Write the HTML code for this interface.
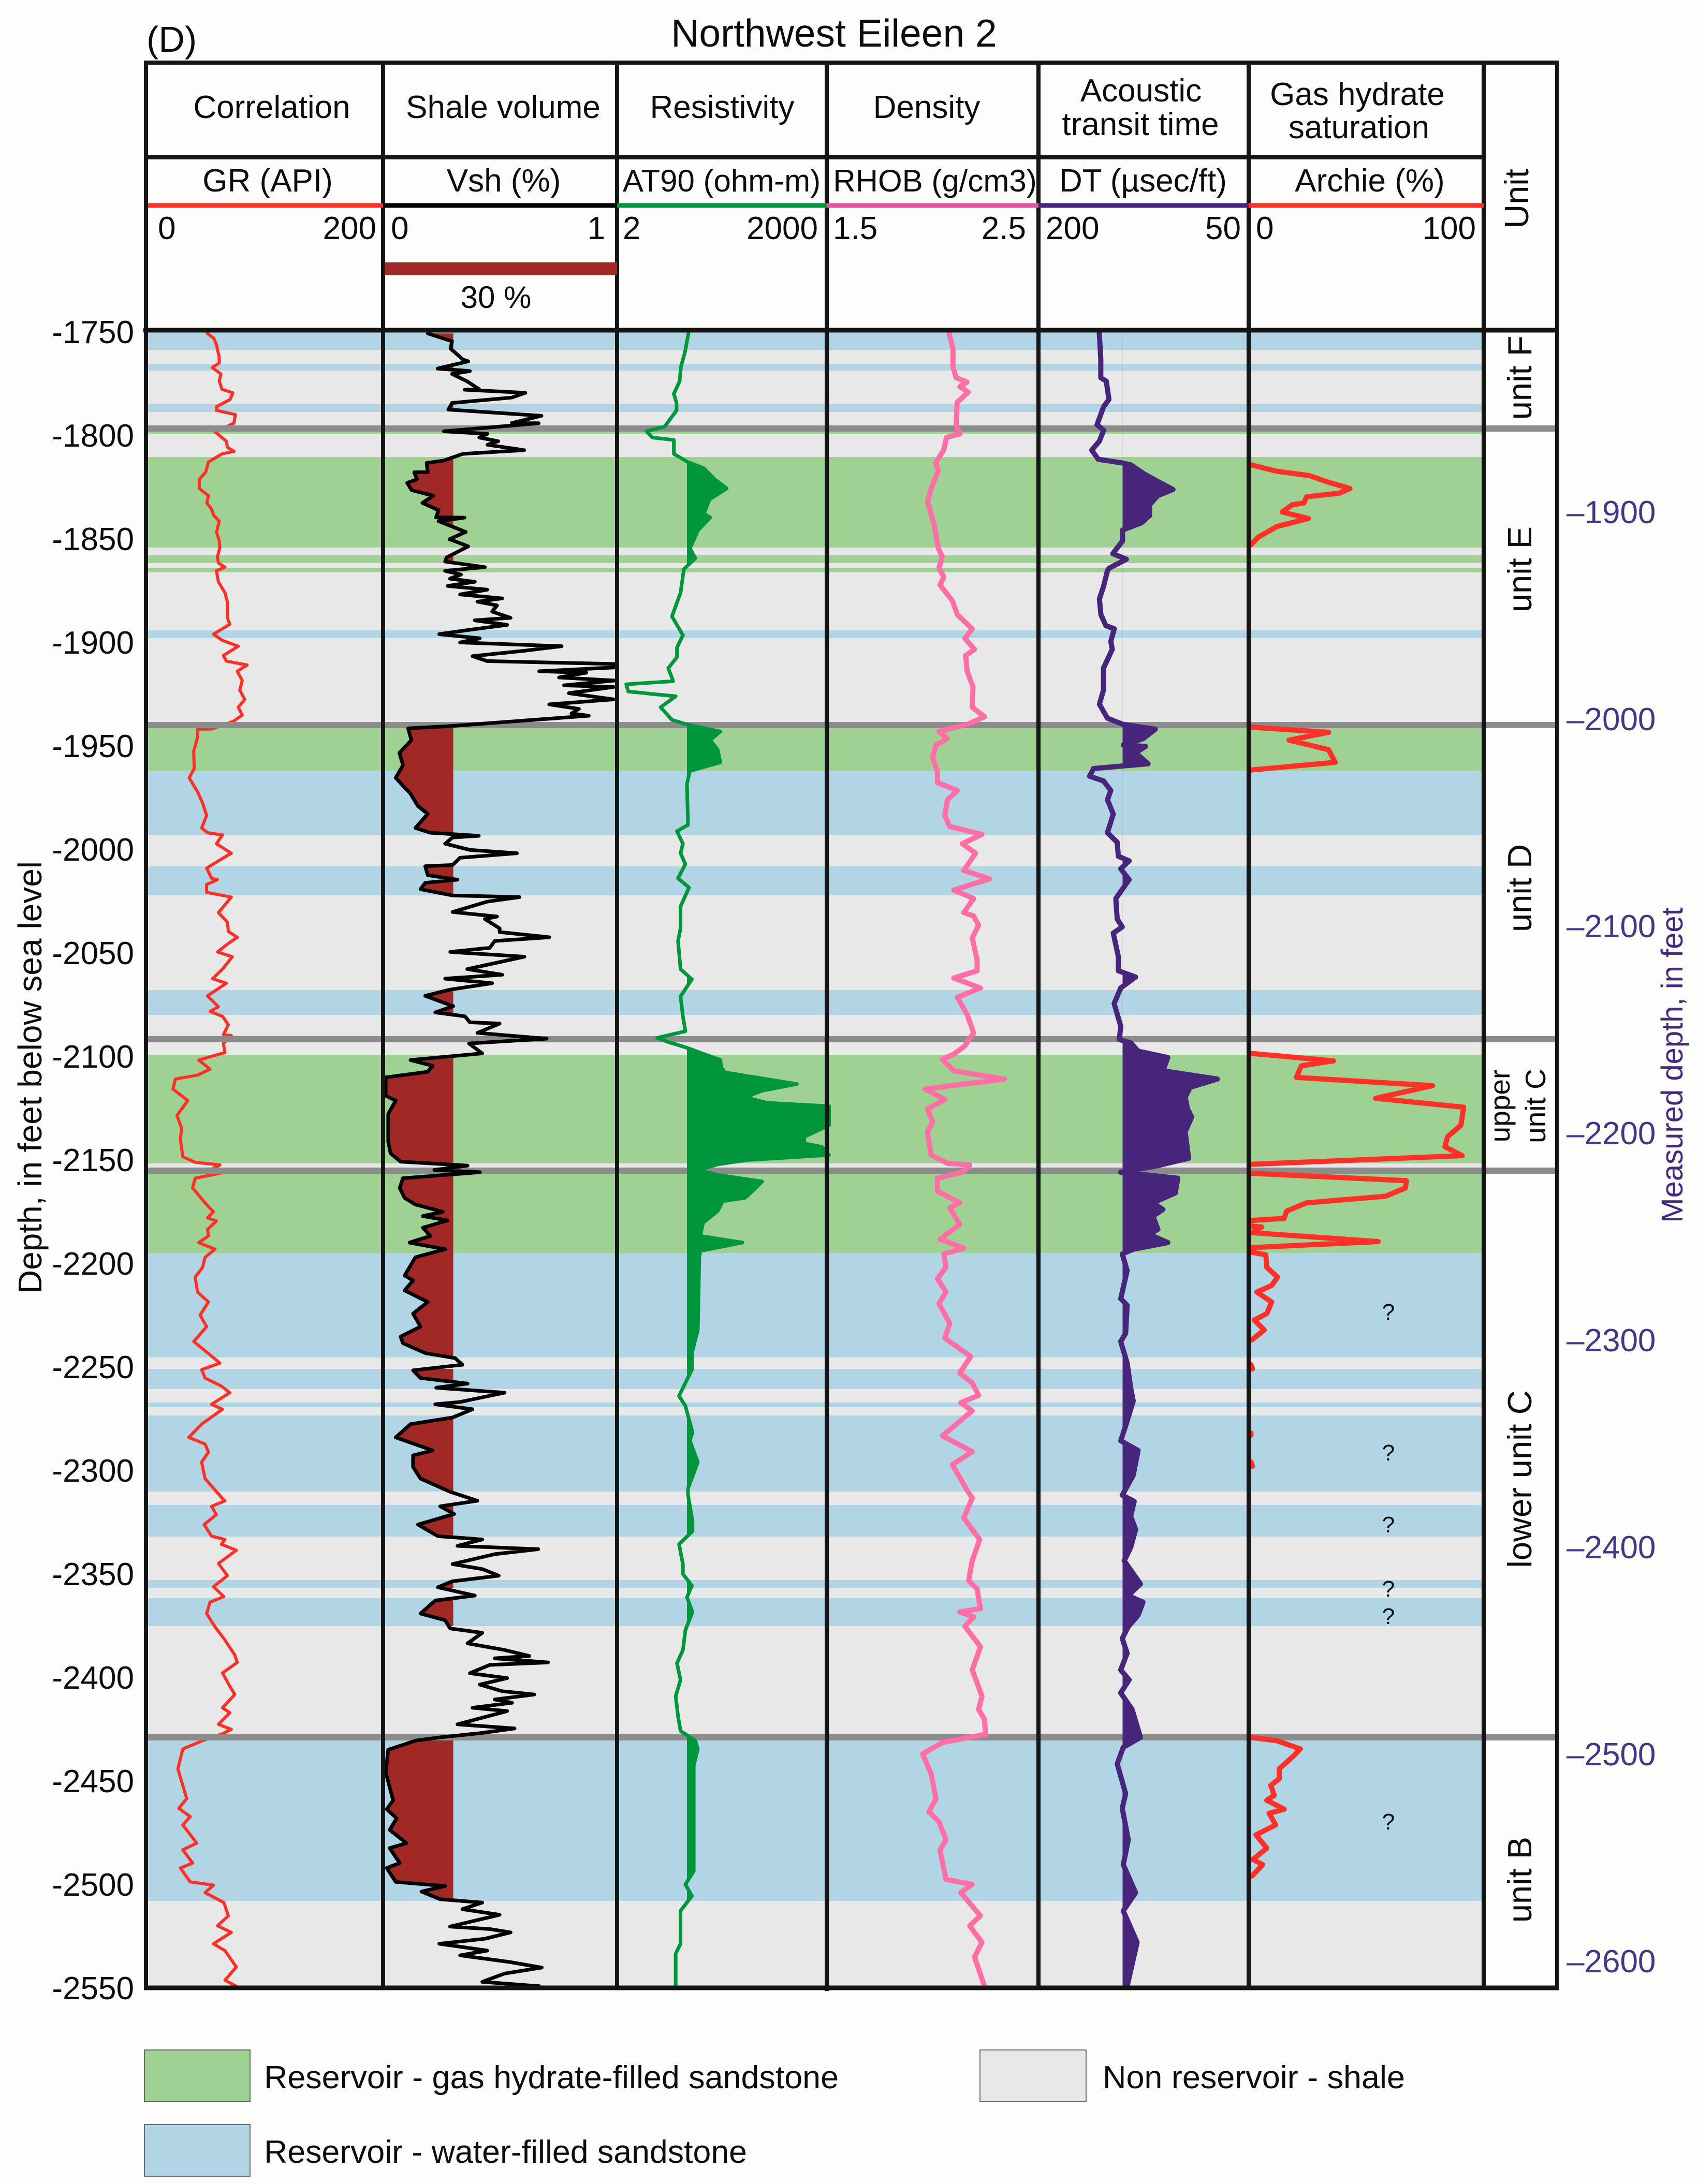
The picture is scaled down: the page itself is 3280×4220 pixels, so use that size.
<!DOCTYPE html>
<html lang="en">
<head>
<meta charset="utf-8">
<title>Northwest Eileen 2 well log</title>
<style>
html,body{margin:0;padding:0;background:#fdfdfb;}
svg{display:block;font-family:"Liberation Sans",Arial,sans-serif;}
text{fill:#0c0c0c;}
</style>
</head>
<body>
<svg id="chart" xmlns="http://www.w3.org/2000/svg" width="3280" height="4220" viewBox="0 0 3280 4220">
<defs id="defs"></defs>
<rect x="0" y="0" width="3280" height="4220" fill="#fdfdfb"/>
<rect x="283" y="640" width="2583" height="3201" fill="#e8e8e8"/>
<g id="bands"></g>
<g id="grLayer"></g>
<g id="unitLines"></g>
<g id="fills"></g>
<g id="curves"></g>
<g stroke="#151515" stroke-width="8" fill="none">
<line x1="278" y1="121" x2="3012" y2="121"/>
<line x1="282" y1="118" x2="282" y2="3845"/>
<line x1="3008" y1="118" x2="3008" y2="3845"/>
<line x1="740" y1="121" x2="740" y2="3841"/>
<line x1="1192" y1="121" x2="1192" y2="3841"/>
<line x1="1597" y1="121" x2="1597" y2="3847"/>
<line x1="2006" y1="121" x2="2006" y2="3841"/>
<line x1="2412" y1="121" x2="2412" y2="3841"/>
<line x1="2866" y1="121" x2="2866" y2="3841"/>
<line x1="282" y1="304" x2="2866" y2="304"/>
<line x1="277" y1="638" x2="3012" y2="638" stroke-width="9"/>
<line x1="278" y1="3841" x2="3012" y2="3841" stroke-width="9"/>
</g>
<g stroke-width="9">
<line x1="286" y1="397" x2="740" y2="397" stroke="#ff3028"/>
<line x1="740" y1="397" x2="1192" y2="397" stroke="#000"/>
<line x1="1192" y1="397" x2="1597" y2="397" stroke="#00963c"/>
<line x1="1597" y1="397" x2="2006" y2="397" stroke="#e0559c"/>
<line x1="2006" y1="397" x2="2412" y2="397" stroke="#47257a"/>
<line x1="2412" y1="397" x2="2866" y2="397" stroke="#ff3028"/>
</g>
<rect x="743" y="507" width="449" height="25" fill="#a22825"/>
<text x="283" y="100" font-size="70">(D)</text>
<text x="1611" y="90" font-size="75" text-anchor="middle">Northwest Eileen 2</text>
<g font-size="62" text-anchor="middle">
<text x="525" y="228">Correlation</text>
<text x="972" y="228">Shale volume</text>
<text x="1395" y="228">Resistivity</text>
<text x="1790" y="228">Density</text>
<text x="2204" y="196">Acoustic</text>
<text x="2203" y="261">transit time</text>
<text x="2622" y="203">Gas hydrate</text>
<text x="2625" y="267">saturation</text>
<text x="517" y="370">GR (API)</text>
<text x="973" y="370">Vsh (%)</text>
<text x="1394" y="370" font-size="60">AT90 (ohm-m)</text>
<text x="1806" y="370" font-size="60">RHOB (g/cm3)</text>
<text x="2208" y="370">DT (µsec/ft)</text>
<text x="2646" y="370">Archie (%)</text>
<text x="958" y="595" font-size="60">30 %</text>
</g>
<g font-size="62">
<text x="305" y="462">0</text>
<text x="727" y="462" text-anchor="end">200</text>
<text x="755" y="462">0</text>
<text x="1169" y="462" text-anchor="end">1</text>
<text x="1203" y="462">2</text>
<text x="1580" y="462" text-anchor="end">2000</text>
<text x="1609" y="462">1.5</text>
<text x="1982" y="462" text-anchor="end">2.5</text>
<text x="2020" y="462">200</text>
<text x="2397" y="462" text-anchor="end">50</text>
<text x="2426" y="462">0</text>
<text x="2851" y="462" text-anchor="end">100</text>
</g>
<g font-size="65" text-anchor="middle">
<text transform="translate(2952,384) rotate(-90)">Unit</text>
<text transform="translate(2958,730) rotate(-90)">unit F</text>
<text transform="translate(2958,1100) rotate(-90)">unit E</text>
<text transform="translate(2958,1716) rotate(-90)">unit D</text>
<text transform="translate(2916,2137) rotate(-90)" font-size="55">upper</text>
<text transform="translate(2985,2137) rotate(-90)" font-size="55">unit C</text>
<text transform="translate(2958,2858) rotate(-90)">lower unit C</text>
<text transform="translate(2958,3632) rotate(-90)">unit B</text>
</g>
<g font-size="44" text-anchor="middle">
<text x="2682" y="2550">?</text>
<text x="2682" y="2822">?</text>
<text x="2682" y="2961">?</text>
<text x="2682" y="3085">?</text>
<text x="2682" y="3138">?</text>
<text x="2682" y="3535">?</text>
</g>
<g id="depthTickLabels" font-size="62" text-anchor="end"></g>
<g id="mdTickLabels" font-size="62"></g>
<text transform="translate(80,2082) rotate(-90)" font-size="64" text-anchor="middle">Depth, in feet below sea level</text>
<text transform="translate(3250,2058) rotate(-90)" font-size="58" text-anchor="middle" style="fill:#47287e">Measured depth, in feet</text>
<g>
<rect x="279" y="3961" width="204" height="100" fill="#9fd292" stroke="#444" stroke-width="1.5"/>
<rect x="1893" y="3961" width="205" height="100" fill="#e8e8e8" stroke="#444" stroke-width="1.5"/>
<rect x="279" y="4105" width="204" height="100" fill="#b2d5e5" stroke="#444" stroke-width="1.5"/>
<text x="510" y="4035" font-size="62" textLength="1110" lengthAdjust="spacingAndGlyphs">Reservoir - gas hydrate-filled sandstone</text>
<text x="2130" y="4035" font-size="62" textLength="584" lengthAdjust="spacingAndGlyphs">Non reservoir - shale</text>
<text x="510" y="4179" font-size="62" textLength="933" lengthAdjust="spacingAndGlyphs">Reservoir - water-filled sandstone</text>
</g>
</svg>
<script>
const depthTicks=[-1750,-1800,-1850,-1900,-1950,-2000,-2050,-2100,-2150,-2200,-2250,-2300,-2350,-2400,-2450,-2500,-2550];
const measuredDepthTicks=[1900,2000,2100,2200,2300,2400,2500,2600];
const bandTops=[-1750,-1765.5,-1785,-1798,-1810.5,-1858,-1864,-1894.25,-1941.5,-1962,-2008.25,-2068,-2099.25,-2156.75,-2195,-2251,-2267.25,-2273.5,-2316.75,-2353,-2361.75,-2430.5];
const bandBases=[-1758.75,-1768.75,-1788.75,-1799.5,-1854.25,-1861.75,-1866.25,-1898,-1962,-1993,-2022.25,-2080,-2151.75,-2195,-2245.5,-2260.75,-2269.5,-2310.25,-2332,-2357,-2375.25,-2508];
const bandKinds=["water","water","water","hydrate","hydrate","hydrate","hydrate","water","hydrate","water","water","water","hydrate","hydrate","water","water","water","water","water","water","water","water"];
const unitBoundaries=[-1796.75,-1940,-2091.75,-2155.25,-2429];

const grDepth=[-1750.8,-1753.2,-1756.4,-1762.5,-1765.1,-1767.3,-1770.4,-1773.9,-1777.8,-1779.5,-1782.7,-1786.2,-1788,-1790,-1794.1,-1798.5,-1802.9,-1805.8,-1807.8,-1809,-1812.9,-1817.8,-1821.3,-1825.7,-1829.2,-1832.7,-1835.3,-1838.8,-1841.5,-1846.7,-1851.1,-1854.1,-1858.7,-1861.7,-1863.7,-1865.5,-1870.8,-1876.1,-1880.7,-1888.2,-1891.3,-1896.1,-1899.1,-1901.9,-1906.4,-1909.1,-1911,-1914,-1918.5,-1923.1,-1927.6,-1931.4,-1935.2,-1938.2,-1941.9,-1942,-1945.8,-1952.6,-1961,-1965.5,-1972.3,-1977.6,-1983.7,-1989.7,-1992,-1993.1,-1997.3,-2001.9,-2005.6,-2009.1,-2014,-2014.7,-2017,-2020.8,-2023.1,-2030.6,-2035.2,-2039.7,-2042.5,-2045.8,-2049.6,-2051.9,-2057.9,-2062.5,-2064.7,-2070.8,-2076.1,-2078.3,-2080.7,-2084.7,-2089.5,-2090,-2093.8,-2098.2,-2101.8,-2106.2,-2109.1,-2111,-2115.8,-2121.4,-2128.6,-2134.9,-2139.7,-2148.5,-2151.2,-2152.5,-2154.9,-2156,-2158.9,-2163.6,-2170.8,-2175.1,-2178,-2179.6,-2183.6,-2186.8,-2190,-2193.2,-2197.1,-2202,-2206.7,-2213.9,-2218.7,-2225,-2230.6,-2237.8,-2244.2,-2248.2,-2251.4,-2255.4,-2259.3,-2262.5,-2268.1,-2270.5,-2277.7,-2284.1,-2287.3,-2291.2,-2296,-2304,-2313.6,-2314.7,-2317.4,-2321.4,-2326.2,-2331.8,-2333.4,-2335.7,-2338.6,-2345,-2350.9,-2356.2,-2361,-2363.7,-2369.2,-2375.6,-2382,-2389.2,-2392.8,-2397.9,-2404.3,-2408.3,-2414.7,-2417.1,-2422.7,-2425.1,-2427.5,-2430.6,-2434.6,-2444.2,-2458.6,-2463.3,-2467.3,-2471.3,-2480.1,-2483.3,-2489.7,-2492.1,-2498.8,-2500.4,-2504,-2508.8,-2515.2,-2520,-2523.2,-2528.7,-2532,-2539.9,-2546.3,-2549.2];
const grValue=[51.4,57,59.2,61.5,61.5,55.6,62.9,61.5,63.8,73,70.7,59.2,59.2,75.2,73.9,58.3,67.5,68.4,73.9,63.8,52.4,50,44.6,44.6,52.4,51,54.6,57,61.5,59.2,61.5,62,60,60.8,66.3,59.1,60.8,66.3,68.4,68.4,70.4,56.6,64.2,77.6,65,67.5,85.1,76.7,80.9,78.8,83,77.6,80.9,73.4,55,43.2,43.2,39.9,40.3,36.1,43.2,47.4,50.8,46.6,51.6,64.2,59.1,71.7,60.8,50.8,55,60,50.8,50.8,71.7,60.8,68.4,69.2,76.7,68.4,60,72.5,64.2,55.8,67.5,51.6,60.8,53.7,64.2,69.2,65,71.7,65,66.3,44.1,53.7,43.2,24.4,22.3,34.9,25.7,29.8,28.6,30.7,41.1,62,53.7,66.3,41.1,39,49.5,56.6,51.6,59.1,51.6,52.4,44.1,57.9,49.5,47.4,41.1,43.2,52.4,45.3,50.8,39.9,53.7,62,46.6,49.5,63.3,70.4,55,64.2,46.6,35.7,49.5,52.4,46.6,49.5,64.2,66.3,55,59.1,48.7,55,66.3,63.3,75.9,60.8,68.4,56.6,65.4,53.7,50.8,57.9,66.3,74.6,76.7,64.2,70.4,74.6,64.2,70.4,60.8,71.7,63.3,47.4,30.7,26.5,34,27.3,37,30.7,42.4,30.7,39,28.6,37,56.6,49.5,65.4,69.2,60,71.7,56.6,66.3,75.9,66.3,75.9];

const vshDepth=[-1750.8,-1754.6,-1758.1,-1763.4,-1764.3,-1767.8,-1769,-1770.4,-1773.9,-1777.8,-1778,-1779.5,-1781.8,-1784.4,-1787.6,-1790.6,-1794.1,-1794.2,-1798.1,-1799.3,-1801.1,-1802.9,-1804.6,-1807.2,-1809,-1812.2,-1813.4,-1817.8,-1817.9,-1821.3,-1823,-1826.5,-1829.2,-1832.7,-1836.2,-1839.7,-1839.8,-1841.5,-1846.7,-1850.2,-1853.7,-1859,-1861,-1863.7,-1865.5,-1867.3,-1869.3,-1870.8,-1872.8,-1874.6,-1876.9,-1878.8,-1880.4,-1882.2,-1885.2,-1888.2,-1889.4,-1891.6,-1894.3,-1896.1,-1898.1,-1900.1,-1901.9,-1904.1,-1906.7,-1909.1,-1910.5,-1912.2,-1914,-1914.7,-1917,-1918.5,-1920.8,-1921.6,-1924.6,-1927.6,-1930,-1932.2,-1934.4,-1935.5,-1940.5,-1941.6,-1947.3,-1953.4,-1959.4,-1965.5,-1973.1,-1979.1,-1982.9,-1989.7,-1992,-1993.5,-1994.3,-1997.3,-2000.3,-2001.9,-2004.1,-2007.6,-2008.2,-2012.5,-2014.7,-2016.2,-2019.3,-2022.3,-2023.1,-2025.3,-2030.3,-2032.5,-2033.7,-2038.2,-2040,-2042.5,-2044.3,-2047.6,-2049.6,-2051.9,-2057.9,-2060.6,-2062.5,-2064.7,-2067.8,-2070.8,-2075.8,-2078.8,-2080.7,-2083.6,-2084.2,-2088.7,-2091.5,-2093.8,-2098.6,-2101.8,-2104.6,-2107.5,-2110.2,-2119,-2121.4,-2127.8,-2141.3,-2146.9,-2150.9,-2152.8,-2154.9,-2156,-2158.9,-2163.6,-2168.4,-2171.6,-2175.1,-2177.2,-2179.3,-2182.8,-2186.8,-2190,-2193.2,-2197.1,-2205.9,-2208.3,-2213.1,-2218.7,-2224.3,-2230.6,-2235.4,-2238.6,-2243.4,-2245.8,-2249,-2251.7,-2255.4,-2258.1,-2260.1,-2262.5,-2267,-2268.1,-2270.5,-2274.5,-2277.7,-2284.1,-2290.4,-2292.8,-2298.4,-2304,-2310.4,-2314.7,-2317.4,-2321.1,-2326.2,-2331.8,-2333.4,-2336.5,-2338.1,-2340.5,-2345.3,-2347.7,-2350.9,-2353.6,-2356.5,-2360.5,-2362.9,-2369.2,-2372.4,-2376.4,-2378.5,-2383.6,-2386.8,-2389.7,-2390.8,-2392.8,-2394,-2398,-2400.4,-2403.5,-2406.7,-2408.3,-2410.7,-2412.3,-2414.7,-2416.3,-2422.7,-2424.7,-2427,-2429,-2430.6,-2435,-2445.8,-2459.4,-2463.7,-2468.1,-2473.7,-2480.1,-2482.5,-2489.7,-2492.1,-2498.8,-2500.8,-2503.5,-2507.2,-2508.8,-2512,-2514.7,-2520.4,-2521.6,-2523.2,-2526.3,-2528.7,-2532,-2534.3,-2537.5,-2540.2,-2543.1,-2547.1,-2549.2];
const vshValue=[.191,.295,.288,.341,.364,.233,.371,.295,.358,.411,.348,.608,.55,.295,.279,.677,.55,.665,.26,.446,.411,.492,.446,.603,.341,.26,.186,.191,.133,.145,.103,.122,.214,.168,.237,.226,.348,.237,.353,.284,.364,.272,.265,.435,.265,.333,.286,.392,.276,.445,.329,.509,.403,.487,.466,.545,.392,.53,.35,.24,.413,.329,.763,.604,.382,.445,.989,.985,.667,.868,.752,.989,.773,.985,.794,.985,.71,.837,.805,.879,.287,.107,.121,.07,.085,.054,.117,.149,.191,.138,.202,.409,.297,.265,.371,.572,.329,.297,.18,.191,.318,.18,.16,.297,.583,.445,.297,.487,.435,.498,.498,.71,.477,.456,.287,.604,.36,.509,.265,.466,.287,.18,.3,.223,.35,.371,.498,.403,.699,.367,.424,.117,.212,.191,.011,.011,.054,.022,.022,.032,.075,.361,.219,.414,.085,.071,.092,.138,.255,.17,.276,.17,.202,.113,.265,.138,.092,.128,.092,.191,.128,.16,.075,.085,.181,.308,.339,.128,.16,.361,.227,.519,.329,.223,.382,.297,.117,.054,.212,.128,.128,.16,.287,.403,.244,.304,.149,.234,.424,.318,.663,.477,.297,.424,.494,.297,.234,.392,.223,.16,.265,.287,.424,.361,.519,.625,.477,.705,.456,.371,.53,.413,.509,.646,.477,.551,.382,.53,.318,.562,.413,.244,.138,.022,.011,.043,.016,.058,.028,.1,.028,.071,.016,.054,.265,.164,.244,.424,.339,.498,.286,.456,.545,.434,.24,.445,.329,.54,.678,.519,.424,.668];

const at90Depth=[-1750.8,-1759.9,-1766.9,-1773.9,-1780,-1784.4,-1788,-1795.8,-1798.1,-1801.1,-1802.3,-1809,-1812.9,-1816,-1821.3,-1825.7,-1831,-1838,-1839.7,-1845.8,-1854.6,-1859.4,-1864.7,-1876.1,-1887.5,-1896.6,-1902.6,-1907.2,-1912.5,-1918.8,-1920.3,-1923.8,-1926.1,-1931.4,-1937.5,-1939.7,-1943.1,-1947.3,-1951.9,-1958,-1962.2,-1968.5,-1988.2,-1991.3,-1997.3,-2001.9,-2007.2,-2014,-2018.5,-2027.6,-2038.2,-2044.3,-2057.9,-2062.8,-2071.1,-2080.7,-2087.9,-2091.1,-2093.1,-2095.9,-2101.8,-2105.4,-2107.8,-2113.4,-2116.6,-2119.8,-2122.5,-2124.1,-2133.3,-2138.9,-2142.1,-2143.7,-2147.7,-2150.1,-2152.2,-2154.9,-2157.3,-2160.5,-2165.2,-2168.4,-2170,-2174.8,-2180.4,-2186.8,-2190,-2194,-2197.1,-2232.2,-2243.4,-2251.4,-2256.2,-2264.1,-2268.9,-2281.7,-2285.7,-2296,-2308.8,-2311.8,-2324.6,-2329.4,-2335.7,-2345.3,-2350.1,-2355.7,-2361.3,-2368.4,-2377.2,-2386.8,-2393.2,-2401.2,-2409.1,-2418.7,-2425.9,-2430.6,-2434.6,-2442.6,-2493.6,-2500,-2505.6,-2512.8,-2528.7,-2533.5,-2549.2];
const at90Value=[21,18.7,16.4,15.7,13,14.2,14.2,9.6,5.3,6.4,13,13,20.5,35,50,74,42,35,43,29,22,26.3,18.1,16.2,12.2,17.5,14.4,14.4,10.8,12.7,2.7,2.9,13.8,8.4,12.2,20,60,43,55,60,22,20,20.7,14.4,17.5,16.2,19,14.9,21.4,16.2,16.2,14.9,16.2,23.5,16.2,17.5,19,7.5,10.8,20,60,62,70,748,238,135,282,2160,2160,957,957,1690,2160,147,55,28.6,55,238,172,135,65,55,34,31,125,31,30,28.6,23.5,23.5,20,15.4,19,24,22,28.6,20.7,20.7,24,24,15.4,17.5,17.5,23.5,20,24,19,17.5,14.4,16.2,13.8,14.9,16.2,26.3,28.6,25,25,19,23.5,16.2,16.2,13.8,13.8];

const rhobDepth=[-1750.8,-1758.1,-1766.9,-1772.2,-1774.3,-1776.6,-1779.2,-1784.1,-1795,-1799.3,-1801.1,-1807.2,-1813.4,-1816.9,-1825.7,-1831.8,-1844.1,-1854.6,-1858.7,-1864,-1868.5,-1872.3,-1879.9,-1886.7,-1893.5,-1898.1,-1903.4,-1906.4,-1914,-1921.6,-1931.4,-1936,-1939.7,-1943.1,-1946.6,-1949.6,-1955.6,-1962.5,-1967.8,-1971.6,-1976.1,-1983.7,-1989,-1992.8,-1997.3,-2001.9,-2010.2,-2014.3,-2019.7,-2023.8,-2030.6,-2032.2,-2036.7,-2042.8,-2053.4,-2058.7,-2062.2,-2067,-2071.5,-2079.9,-2088.7,-2095,-2099,-2101.4,-2107,-2111,-2115.8,-2120.9,-2125.4,-2131.7,-2136.5,-2147.7,-2151.7,-2152.5,-2156,-2158.9,-2165.2,-2170.8,-2173.2,-2181.2,-2188.4,-2192.7,-2195.5,-2201.9,-2207.5,-2213.9,-2219.5,-2229,-2236.2,-2245,-2253,-2257.7,-2263.8,-2267.3,-2271.3,-2283.3,-2291,-2297.3,-2309.6,-2313.4,-2323,-2333.4,-2343.7,-2353.3,-2357.3,-2366.8,-2368.4,-2370.8,-2375.3,-2385.2,-2396.4,-2409.1,-2415.5,-2420.3,-2427.5,-2431.5,-2437,-2446.6,-2458.6,-2465,-2469.7,-2478.5,-2483.3,-2497.6,-2500,-2504,-2515.2,-2520,-2528,-2535.1,-2549.2];
const rhobValue=[2.078,2.096,2.096,2.111,2.162,2.129,2.168,2.116,2.111,2.129,2.065,2.052,2.014,2.027,1.994,1.976,2.009,2.027,2.046,2.03,2.053,2.035,2.093,2.117,2.187,2.152,2.198,2.156,2.163,2.191,2.187,2.245,2.163,2.03,2.07,2.016,2,2.023,2.023,2.117,2.07,2.058,2.081,2.233,2.14,2.203,2.147,2.269,2.1,2.194,2.147,2.194,2.217,2.187,2.21,2.21,2.1,2.226,2.117,2.163,2.194,2.152,2.1,2.046,2.1,2.339,1.964,2.058,1.976,2,1.976,1.993,2.07,2.175,2.14,2.023,2.023,2.128,2.081,2.128,2.035,2.147,2.053,2.063,2.023,2.063,2.03,2.081,2.058,2.18,2.128,2.187,2.217,2.133,2.187,2.046,2.187,2.093,2.163,2.187,2.147,2.222,2.187,2.17,2.21,2.226,2.128,2.194,2.152,2.226,2.187,2.233,2.217,2.245,2.25,2.046,1.953,1.993,2.016,1.983,2.03,2.063,2.035,2.063,2.187,2.133,2.226,2.175,2.233,2.198,2.245];

const dtDepth=[-1750.8,-1763.4,-1772.2,-1773.9,-1782.7,-1786.2,-1794.9,-1797.6,-1802.9,-1807.2,-1811.6,-1813.4,-1814.3,-1818.7,-1823,-1826.2,-1829.2,-1833.6,-1838.8,-1842.3,-1845.8,-1851.1,-1857.2,-1859.9,-1864.3,-1865.5,-1873.1,-1879.1,-1886.7,-1892,-1893.5,-1899.6,-1903.4,-1912.5,-1923.1,-1929.9,-1936.7,-1939.7,-1942,-1946.6,-1949.6,-1950.3,-1953.4,-1958.7,-1961,-1964.7,-1967,-1971.6,-1976.1,-1983,-1992,-1996.6,-2003.4,-2005.6,-2009.4,-2014.7,-2023.8,-2033.7,-2037.5,-2040.5,-2051.9,-2058.7,-2061.7,-2067,-2074.5,-2085.5,-2091.9,-2093.5,-2097.5,-2100.6,-2107,-2111,-2115,-2119.8,-2125.4,-2129.4,-2136.5,-2149.3,-2153.3,-2156,-2158.9,-2166,-2170.8,-2174,-2177.2,-2183.6,-2186,-2190,-2193.2,-2195.5,-2203.5,-2217.1,-2220.3,-2233.8,-2237.8,-2248.2,-2260.1,-2266.5,-2278.5,-2285.7,-2290.4,-2302.4,-2312,-2315,-2322.2,-2328.6,-2337.3,-2343.7,-2354.9,-2360.5,-2363.7,-2370,-2375.6,-2381.2,-2388.4,-2396.4,-2401.2,-2407.5,-2415.5,-2429,-2433.8,-2441.8,-2456.2,-2463.3,-2478.5,-2490.5,-2504,-2512.8,-2528,-2549.2];
const dtValue=[156.6,155.5,155.5,151.6,149.7,153.5,158.2,153.5,156.6,162,157.4,140,134.2,124.6,113,104,114.9,120.7,120.7,126.5,140,140,147,137.3,149.7,150.8,153.6,156.5,155.4,151.9,145.9,148.4,147.3,153.6,153.6,156.5,150.8,139.5,116.6,125.4,139.5,123.6,130.7,121.8,160.7,163.5,153.6,148.4,150.8,146.6,150.8,143.8,143,135.3,141.3,135.3,144.8,143.8,140.2,146.6,143,143,130.7,141.3,146,141.3,142.3,134.2,128.9,107.7,111.2,72.4,91.8,95.3,93.6,90.7,95.3,92.9,118.3,141.3,100.6,102.4,118.3,111.2,118.3,114.8,121.1,107.7,132.4,140.2,136.7,141.3,136.7,137.8,141.3,136.7,134.2,132.4,137.8,141.3,128.9,132.4,140.2,131.7,134.2,130.7,134.2,138.8,127.2,136,125.4,128.9,136,140.2,136.7,141.3,135.3,141.3,133.2,127.2,139.5,143.8,137.8,140.2,135.9,139.5,130.7,139.5,129.6,136.7];

const archieDepth=[-1814.3,-1817.4,-1819.5,-1822.7,-1825.7,-1828,-1829.7,-1832.7,-1833.6,-1837.1,-1840.2,-1844.1,-1849.3,-1852.9,null,-1941,-1943.5,-1947.3,-1951.9,-1958,-1961.7,null,-2098.6,-2102.2,-2104.6,-2110.2,-2114.2,-2120.3,-2124.6,-2133.3,-2138.9,-2143.7,-2148,-2152.2,null,-2156.5,-2160.1,-2163.6,-2167.6,-2170.8,-2174.8,-2178.3,-2179.3,null,-2182,-2182.5,-2185.2,-2189.5,-2192.4,null,-2194.7,-2195.9,-2201.9,-2206.7,-2210.7,-2213.9,-2218.7,-2224.3,-2227.4,-2232.2,-2237,null,-2249,-2251,null,-2282,-2283,null,-2296,-2298,null,-2429,-2430.6,-2434.6,-2437.8,-2444.2,-2449,-2452.2,-2457,-2459.4,-2463.7,-2465.7,-2471.3,-2476.1,-2482.5,-2488,-2490.5,-2496];
const archieValue=[1,12,25.8,33.9,43.1,38.5,24.7,23.5,18.5,14.3,25.4,12,4,1,null,1,34,17.2,34,36.8,1,null,1,36.1,22.4,20.3,78.3,54,91.5,90.3,84.6,83.5,90.9,1,null,1,67.1,66.7,58.3,24.6,16.1,15.1,1,null,1,5.6,1.4,55.1,1.4,null,1.4,7.3,7.7,12.3,9.8,3.5,9.8,7.7,2.4,6.6,1.4,null,1,1.6,null,1,1,null,1,1.6,null,1,11.9,22,19.3,13,13,9.4,10.9,7.7,15.1,8.7,11.5,3.1,7.7,1.8,6,1.4];

const vshCutoff=0.3, at90Cutoff=20, dtCutoff=140;

const NS='http://www.w3.org/2000/svg';
const PLOT_LEFT=285, PLOT_RIGHT=2866;
function depthY(d){return 641+(-1750-d)*4;}
function measuredY(md){return 989+(md-1900)*4;}
function grX(v){return 283+v/200*457;}
function vshX(v){return 740+v*452;}
function at90X(v){return 1192+Math.log10(v/2)/3*405;}
function rhobX(v){return 1597+(v-1.5)*409;}
function dtX(v){return 2006+(200-v)/150*406;}
function archieX(v){return 2412+v/100*454;}

function svgEl(tag){return document.createElementNS(NS,tag);}
function pointsOf(depths,values,xf){
  const segs=[];let cur=[];
  for(let i=0;i<depths.length;i++){
    if(depths[i]===null){if(cur.length)segs.push(cur);cur=[];continue;}
    cur.push([xf(values[i]),depthY(depths[i])]);
  }
  if(cur.length)segs.push(cur);
  return segs;
}
function pathOf(segs){
  return segs.map(s=>'M'+s.map(p=>p[0].toFixed(1)+' '+p[1].toFixed(1)).join('L')).join('');
}

const bandColors={water:'#b2d5e5',hydrate:'#9fd292'};
const bandG=document.getElementById('bands');
const defs=document.getElementById('defs');
const vshClip=svgEl('clipPath');
vshClip.setAttribute('id','vshClip');
defs.appendChild(vshClip);
bandTops.forEach((top,i)=>{
  const r=svgEl('rect');
  
  
  r.setAttribute('x',PLOT_LEFT);
  r.setAttribute('width',PLOT_RIGHT-PLOT_LEFT);
  r.setAttribute('y',depthY(top));
  r.setAttribute('height',depthY(bandBases[i])-depthY(top));
  r.setAttribute('fill',bandColors[bandKinds[i]]);
  bandG.appendChild(r);
  const c=svgEl('rect');
  c.setAttribute('x',743);
  c.setAttribute('width',vshX(vshCutoff)-743);
  c.setAttribute('y',depthY(top));
  c.setAttribute('height',depthY(bandBases[i])-depthY(top));
  vshClip.appendChild(c);
});

function addRectClip(id,x1,x2){
  const cp=svgEl('clipPath');
  cp.setAttribute('id',id);
  const c=svgEl('rect');
  c.setAttribute('x',x1);
  c.setAttribute('y',641);
  c.setAttribute('width',x2-x1);
  c.setAttribute('height',3200);
  cp.appendChild(c);
  defs.appendChild(cp);
}
addRectClip('at90Clip',at90X(at90Cutoff),1603);
addRectClip('dtClip',dtX(dtCutoff),2409);

function addFill(depths,values,xf,cutoffX,clipId,color,name){
  const seg=pointsOf(depths,values,xf)[0];
  const poly=[[cutoffX,seg[0][1]],...seg,[cutoffX,seg[seg.length-1][1]]];
  const p=svgEl('path');
  
  
  p.setAttribute('d',pathOf([poly])+'Z');
  p.setAttribute('fill',color);
  p.setAttribute('clip-path','url(#'+clipId+')');
  document.getElementById('fills').appendChild(p);
}
addFill(vshDepth,vshValue,vshX,vshX(vshCutoff),'vshClip','#a22825','vsh-sand-fill');
addFill(at90Depth,at90Value,at90X,at90X(at90Cutoff),'at90Clip','#00963c','at90-gas-fill');
addFill(dtDepth,dtValue,dtX,dtX(dtCutoff),'dtClip','#47257a','dt-gas-fill');

function addCurve(parentId,depths,values,xf,color,width,name){
  const p=svgEl('path');
  
  
  p.setAttribute('d',pathOf(pointsOf(depths,values,xf)));
  p.setAttribute('fill','none');
  p.setAttribute('stroke',color);
  p.setAttribute('stroke-width',width);
  p.setAttribute('stroke-linejoin','round');
  p.setAttribute('stroke-linecap','round');
  document.getElementById(parentId).appendChild(p);
}
addCurve('grLayer',grDepth,grValue,grX,'#ff3028',6,'gr-curve');
addCurve('curves',vshDepth,vshValue,vshX,'#000',7,'vsh-curve');
addCurve('curves',at90Depth,at90Value,at90X,'#00963c',7,'at90-curve');
addCurve('curves',rhobDepth,rhobValue,rhobX,'#ff6fa6',10,'rhob-curve');
addCurve('curves',dtDepth,dtValue,dtX,'#47257a',10,'dt-curve');
addCurve('curves',archieDepth,archieValue,archieX,'#ff3028',10,'archie-curve');

unitBoundaries.forEach(d=>{
  const l=svgEl('rect');
  
  
  l.setAttribute('x',282);
  l.setAttribute('width',2730);
  l.setAttribute('y',depthY(d)-6);
  l.setAttribute('height',12);
  l.setAttribute('fill','#8c8c8c');
  document.getElementById('unitLines').appendChild(l);
});

depthTicks.forEach(t=>{
  const e=svgEl('text');
  
  
  e.setAttribute('x',259);
  e.setAttribute('y',depthY(t)+22);
  e.textContent=String(t);
  document.getElementById('depthTickLabels').appendChild(e);
});
measuredDepthTicks.forEach(t=>{
  const e=svgEl('text');
  
  
  e.setAttribute('x',3026);
  e.setAttribute('y',measuredY(t)+22);
  e.setAttribute('style','fill:#3d3a87');
  e.textContent='\u2013'+t;
  document.getElementById('mdTickLabels').appendChild(e);
});
</script>
</body>
</html>
